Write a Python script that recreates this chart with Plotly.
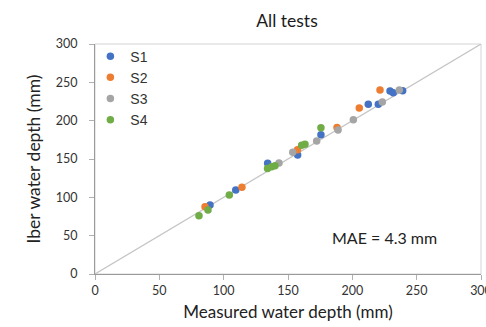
import plotly.graph_objects as go

# Measured vs. simulated (Iber) water depths, mm, per test series
s1_measured = [89.4, 109.4, 134.2, 157.5, 175.6, 212.4, 220.2, 229.3, 231.8, 239.1]
s1_iber     = [90.0, 109.6, 144.4, 155.2, 181.7, 221.3, 221.3, 238.7, 236.5, 239.1]

s2_measured = [85.5, 114.2, 157.4, 188.1, 205.4, 221.5]
s2_iber     = [87.8, 113.1, 162.1, 191.1, 216.5, 240.0]

s3_measured = [143.0, 153.7, 172.3, 188.9, 200.8, 223.3, 236.5]
s3_iber     = [144.8, 158.7, 173.5, 187.8, 201.3, 224.3, 240.0]

s4_measured = [80.8, 87.8, 104.4, 134.1, 137.3, 139.9, 160.6, 163.2, 175.6]
s4_iber     = [76.0, 83.5, 103.0, 137.6, 140.0, 141.3, 167.9, 169.2, 190.8]

series_names = ["S1", "S2", "S3", "S4"]
series_colors = ["#4472C4", "#ED7D31", "#A5A5A5", "#70AD47"]

identity_line = [0, 300]
tick_values = [0, 50, 100, 150, 200, 250, 300]
mae_text = "MAE = 4.3 mm"

GEO = "Lato, 'DejaVu Sans', sans-serif"

fig = go.Figure()

# 1:1 reference line
fig.add_trace(go.Scatter(
    x=identity_line, y=identity_line, mode="lines",
    line=dict(color="#c4c4c4", width=1.2),
    showlegend=False, hoverinfo="skip",
))

for name, color, xs, ys in zip(
    series_names, series_colors,
    [s1_measured, s2_measured, s3_measured, s4_measured],
    [s1_iber, s2_iber, s3_iber, s4_iber],
):
    fig.add_trace(go.Scatter(
        x=xs, y=ys, mode="markers", name=name,
        marker=dict(color=color, size=7.5, line=dict(width=0)),
    ))

axis_font = dict(family=GEO, size=12.5, color="#333333")

fig.update_layout(
    width=486, height=327,
    margin=dict(l=95, r=5, t=44, b=53, autoexpand=False),
    paper_bgcolor="white", plot_bgcolor="white",
    title=dict(
        text="All tests", x=287 / 486, xanchor="center",
        y=1 - 21 / 327, yanchor="middle",
        font=dict(family=GEO, size=17.5, color="#1a1a1a"),
    ),
    legend=dict(
        x=-0.012, y=1.015, xanchor="left", yanchor="top",
        bgcolor="rgba(0,0,0,0)", borderwidth=0,
        font=dict(family="'Liberation Sans', Arial, sans-serif", size=14, color="#333333"),
        itemwidth=30, tracegroupgap=0,
    ),
    xaxis=dict(
        range=[0, 300], tickvals=tick_values, showgrid=False, zeroline=False,
        showline=True, linecolor="#9a9a9a", linewidth=1.2,
        ticks="outside", ticklen=5, tickcolor="#b0b0b0",
        tickfont=axis_font, ticklabeloverflow="allow", automargin=False,
        title=dict(text="Measured water depth (mm)", standoff=9,
                   font=dict(family=GEO, size=17, color="#222222")),
    ),
    yaxis=dict(
        range=[0, 300], tickvals=tick_values, showgrid=False, zeroline=False,
        showline=True, linecolor="#9a9a9a", linewidth=1.2,
        ticks="outside", ticklen=5, tickcolor="#b0b0b0",
        tickfont=axis_font, ticklabelstandoff=9, automargin=False,
        title=dict(text="Iber water depth (mm)", standoff=10,
                   font=dict(family=GEO, size=17.5, color="#222222")),
    ),
    shapes=[dict(
        type="rect", xref="x domain", yref="y domain", x0=0, x1=1, y0=0, y1=1,
        line=dict(color="#d4d4d4", width=1), layer="below",
    )],
    annotations=[dict(
        x=225, y=48, xref="x", yref="y", text=mae_text, showarrow=False,
        xanchor="center", yanchor="middle",
        font=dict(family=GEO, size=16, color="#222222"),
    )],
)

fig.write_html("out.html")
